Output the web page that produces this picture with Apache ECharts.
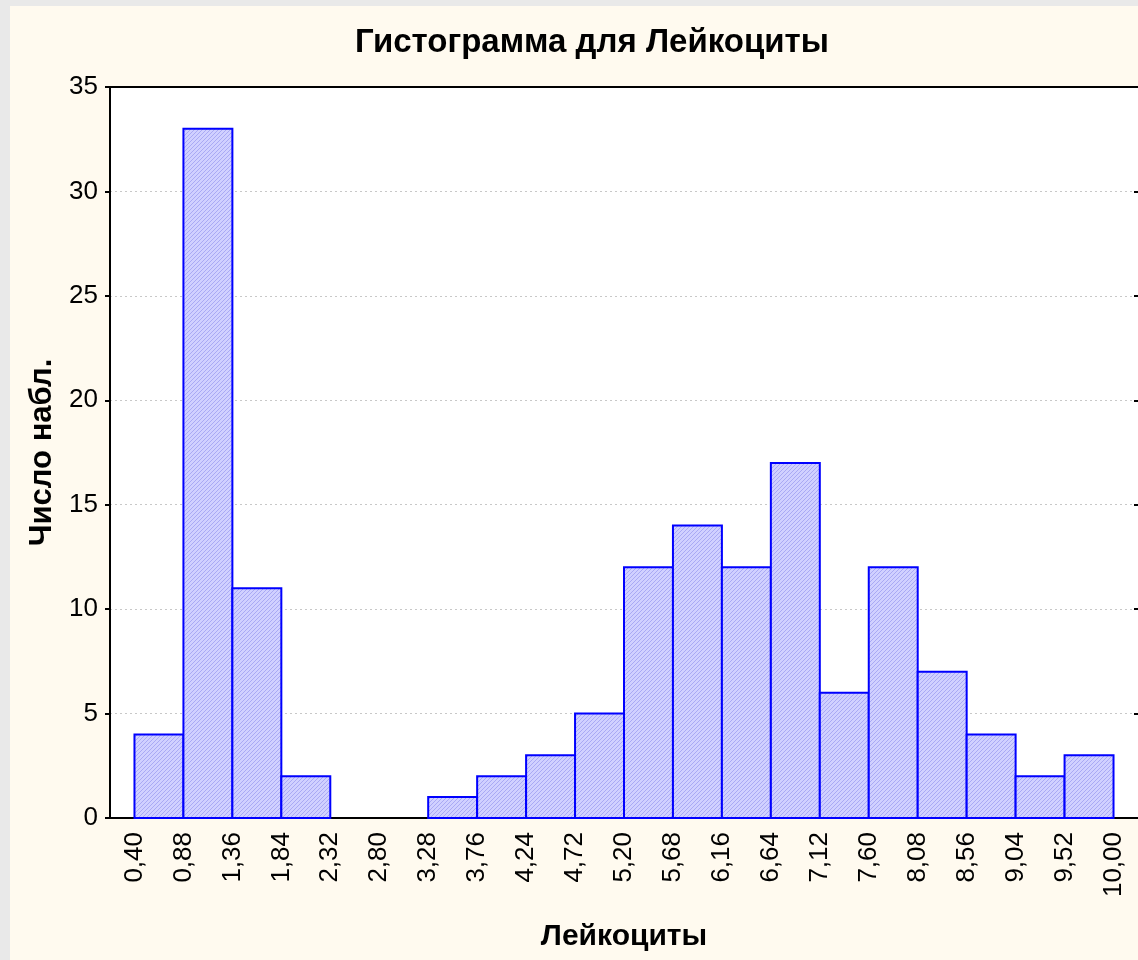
<!DOCTYPE html>
<html>
<head>
<meta charset="utf-8">
<script src="https://cdn.jsdelivr.net/npm/echarts@6/dist/echarts.min.js"></script>
<style>
  html, body { margin: 0; padding: 0; background: #e9e9e9; }
  #chart { width: 1138px; height: 960px; }
</style>
</head>
<body>
<div id="chart"></div>
<script>
// границы интервалов (подписи оси X)
var edgeLabels = ['0,40', '0,88', '1,36', '1,84', '2,32', '2,80', '3,28', '3,76', '4,24', '4,72',
  '5,20', '5,68', '6,16', '6,64', '7,12', '7,60', '8,08', '8,56', '9,04', '9,52', '10,00'];
// число наблюдений в каждом интервале
var counts = [4, 33, 11, 2, 0, 0, 1, 2, 3, 5, 12, 14, 12, 17, 6, 12, 7, 4, 2, 3];
var yMax = 35;
var yStep = 5;

var FONT = '"Liberation Sans Narrow", "Arial Narrow", "Liberation Sans", sans-serif';

// штриховка столбцов
var cv = document.createElement('canvas');
cv.width = 4; cv.height = 4;
var ctx = cv.getContext('2d');
ctx.fillStyle = '#d0d0ff';
ctx.fillRect(0, 0, 4, 4);
ctx.fillStyle = '#a9a9f4';
for (var k = 0; k < 4; k++) { ctx.fillRect(k, 3 - k, 1, 1); }
var hatch = { image: cv, repeat: 'repeat' };

var chart = echarts.init(document.getElementById('chart'));

function renderItem (params, api) {
  var i = api.value(0);
  var v = api.value(1);
  if (!v) return;
  var p0 = api.coord([i, v]);
  var p1 = api.coord([i + 1, 0]);
  return {
    type: 'rect',
    shape: { x: p0[0], y: p0[1], width: p1[0] - p0[0], height: p1[1] - p0[1] },
    style: { fill: hatch, stroke: '#0000ff', lineWidth: 2 }
  };
}

chart.setOption({
  backgroundColor: '#e9e9e9',
  animation: false,
  graphic: [{
    type: 'rect', z: -10, silent: true,
    shape: { x: 10, y: 6, width: 1140, height: 960 },
    style: { fill: '#fffaef' }
  }],
  title: {
    text: 'Гистограмма для Лейкоциты',
    left: 350,
    top: 21,
    textStyle: { fontFamily: FONT, fontSize: 33, fontWeight: 'bold', color: '#000' }
  },
  grid: {
    left: 110, top: 87, right: -2, bottom: 142,
    show: true, backgroundColor: '#fff', borderWidth: 0
  },
  xAxis: [{
    type: 'category',
    data: edgeLabels,
    position: 'bottom',
    name: 'Лейкоциты',
    nameLocation: 'middle',
    nameGap: 104,
    nameTextStyle: { fontFamily: FONT, fontSize: 30, fontWeight: 'bold', color: '#000' },
    axisLine: { onZero: false, lineStyle: { color: '#000', width: 2 } },
    axisTick: { alignWithLabel: true, inside: true, length: 5, lineStyle: { color: '#000', width: 2 } },
    axisLabel: { rotate: 90, interval: 0, margin: 14, fontFamily: FONT, fontSize: 26, color: '#000' },
    splitLine: { show: false }
  }, {
    type: 'category',
    data: edgeLabels,
    position: 'top',
    axisLine: { onZero: false, lineStyle: { color: '#000', width: 2 } },
    axisTick: { alignWithLabel: true, inside: true, length: 5, lineStyle: { color: '#000', width: 2 } },
    axisLabel: { show: false },
    splitLine: { show: false }
  }],
  yAxis: [{
    type: 'value',
    min: 0, max: yMax, interval: yStep,
    position: 'left',
    name: 'Число набл.',
    nameLocation: 'middle',
    nameGap: 50,
    nameTextStyle: { fontFamily: FONT, fontSize: 31, fontWeight: 'bold', color: '#000' },
    axisLine: { show: true, onZero: false, lineStyle: { color: '#000', width: 2 } },
    axisTick: { show: true, length: 5, lineStyle: { color: '#000', width: 2 } },
    axisLabel: { margin: 12, fontFamily: FONT, fontSize: 26, color: '#000' },
    splitLine: { show: true, lineStyle: { color: '#c8c8c8', width: 1, type: [2, 3] } }
  }, {
    type: 'value',
    min: 0, max: yMax, interval: yStep,
    position: 'right',
    axisLine: { show: false },
    axisTick: { show: true, inside: true, length: 4, lineStyle: { color: '#000', width: 2 } },
    axisLabel: { show: false },
    splitLine: { show: false }
  }],
  series: [{
    type: 'custom',
    renderItem: renderItem,
    xAxisIndex: 0,
    yAxisIndex: 0,
    data: counts.map(function (c, i) { return [i, c]; })
  }]
});
</script>
</body>
</html>
